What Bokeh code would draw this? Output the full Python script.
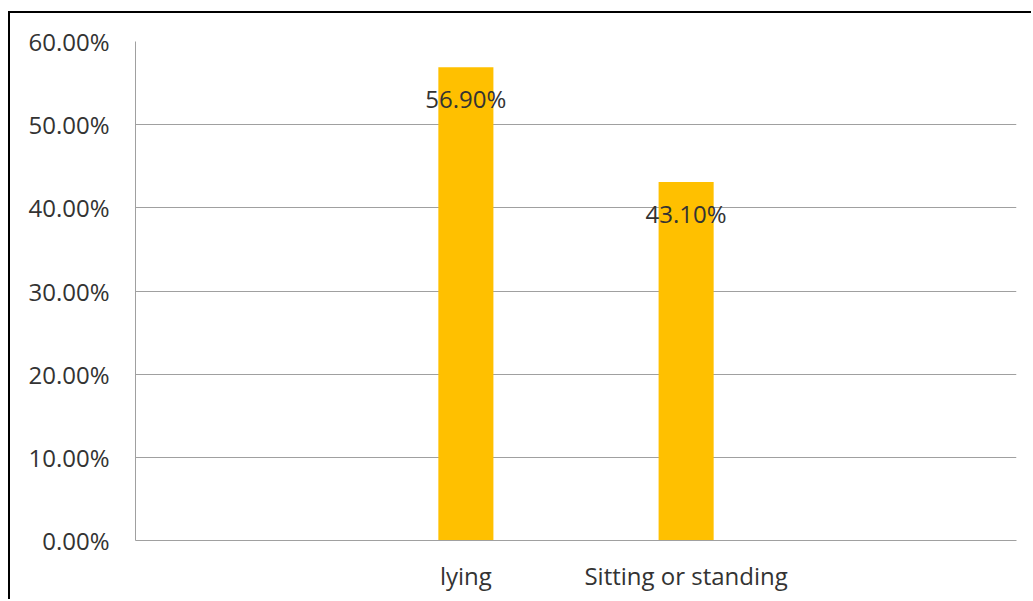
from bokeh.plotting import figure
from bokeh.models import Range1d, FixedTicker, NumeralTickFormatter, ColumnDataSource
from bokeh.core.properties import value
from bokeh.embed import file_html
from bokeh.resources import INLINE

categories = ["lying", "Sitting or standing"]
shares = [0.569, 0.431]
y_ticks = [0.0, 0.1, 0.2, 0.3, 0.4, 0.5, 0.6]

n_slots = 4
positions = [i + 1.5 for i in range(len(categories))]
labels = ["%.2f%%" % (v * 100) for v in shares]

src = ColumnDataSource(dict(x=positions, top=shares, label=labels))

FONT = "Open Sans"
TXT = "#333333"
GRID = "#a0a0a0"

p = figure(width=1023, height=588, output_backend="svg", toolbar_location=None,
           x_range=Range1d(0, n_slots), y_range=Range1d(0, 0.6),
           min_border_left=125, min_border_right=17, min_border_top=28, min_border_bottom=61)
p.styles = {"margin-left": "8px", "margin-top": "11px",
            "border-left": "2px solid #000000", "border-top": "2px solid #000000"}
p.outline_line_color = None
p.background_fill_color = "white"

p.vbar(x="x", top="top", width=0.25, bottom=0, source=src, fill_color="#FFC000", line_color=None)
p.text(x="x", y="top", text="label", source=src, y_offset=31, text_align="center",
       text_baseline="middle", text_font=value(FONT), text_font_size="24px", text_color=TXT)

p.xgrid.visible = False
p.ygrid.ticker = FixedTicker(ticks=y_ticks)
p.ygrid.grid_line_color = GRID
p.ygrid.grid_line_width = 1

p.yaxis.ticker = FixedTicker(ticks=y_ticks)
p.yaxis.formatter = NumeralTickFormatter(format="0.00%")
p.yaxis.axis_line_color = GRID
p.yaxis.major_tick_line_color = None
p.yaxis.minor_tick_line_color = None
p.yaxis.major_label_standoff = 20
p.yaxis.major_label_text_font = FONT
p.yaxis.major_label_text_font_size = "24px"
p.yaxis.major_label_text_color = TXT

p.xaxis.ticker = FixedTicker(ticks=positions)
p.xaxis.major_label_overrides = {pos: c for pos, c in zip(positions, categories)}
p.xaxis.axis_line_color = GRID
p.xaxis.major_tick_line_color = None
p.xaxis.minor_tick_line_color = None
p.xaxis.major_label_standoff = 12
p.xaxis.major_label_text_font = FONT
p.xaxis.major_label_text_font_size = "24px"
p.xaxis.major_label_text_color = TXT

open("out.html", "w").write(file_html(p, INLINE))
